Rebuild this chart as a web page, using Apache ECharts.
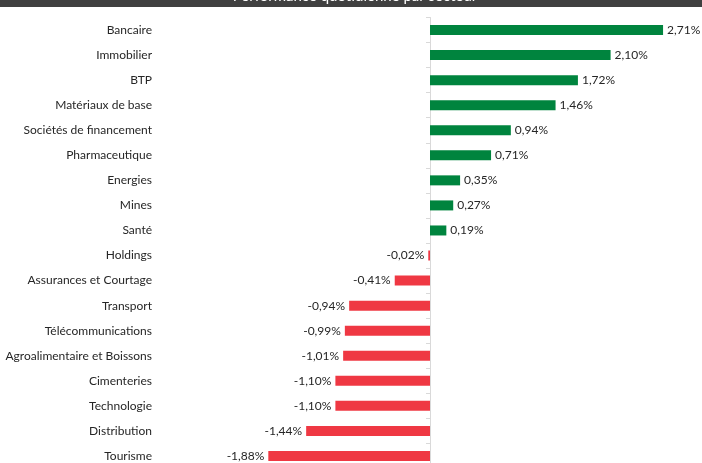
<!DOCTYPE html>
<html>
<head>
<meta charset="utf-8">
<script src="https://cdn.jsdelivr.net/npm/echarts@6/dist/echarts.min.js"></script>
<style>html,body{margin:0;padding:0;background:#fff;}#c{width:702px;height:463px;}</style>
</head>
<body>
<div id="c"></div>
<script>
const titleText = "Performance quotidienne par secteur";
const categories = ["Bancaire","Immobilier","BTP","Matériaux de base","Sociétés de financement","Pharmaceutique","Energies","Mines","Santé","Holdings","Assurances et Courtage","Transport","Télécommunications","Agroalimentaire et Boissons","Cimenteries","Technologie","Distribution","Tourisme"];
const values = [2.71,2.10,1.72,1.46,0.94,0.71,0.35,0.27,0.19,-0.02,-0.41,-0.94,-0.99,-1.01,-1.10,-1.10,-1.44,-1.88];
const posColor = '#00843e';
const negColor = '#ef3843';

const chart = echarts.init(document.getElementById('c'), null, {renderer:'canvas'});
const fmt = v => v.toFixed(2).replace('.', ',') + '%';
chart.setOption({
  backgroundColor:'#fff',
  animation:false,
  graphic:[
    {type:'rect', left:0, top:0, shape:{width:702,height:7}, style:{fill:'#404040'}},
    {type:'text', x:355, y:4, style:{text:titleText, fill:'#fff', font:'15px Lato', textAlign:'center', textVerticalAlign:'bottom'}}
  ],
  grid:{left:160, right:14, top:17.5, bottom:-5.5, containLabel:false, outerBoundsMode:'none'},
  xAxis:{type:'value', min:-3.1395, max:3, show:false, splitLine:{show:false}},
  yAxis:[
    {type:'category', data:categories, inverse:true, position:'left',
      axisLine:{show:false, onZero:false}, axisTick:{show:false},
      axisLabel:{margin:8, color:'#262626', fontFamily:'Lato', fontSize:12}
    },
    {type:'category', data:categories, inverse:true, position:'left',
      axisLine:{show:true, onZero:true, lineStyle:{color:'#d9d9d9', width:1}},
      axisTick:{show:true, length:4, lineStyle:{color:'#d9d9d9'}},
      axisLabel:{show:false}
    }
  ],
  series:[{
    type:'bar', barWidth:10, yAxisIndex:0,
    data: values.map(v => ({value:v, itemStyle:{color: v>=0?posColor:negColor},
      label:{show:true, position: v>=0?'right':'left', distance:4, formatter: fmt(v), color:'#262626', fontFamily:'Lato', fontSize:12}}))
  }]
});
</script>
</body>
</html>
